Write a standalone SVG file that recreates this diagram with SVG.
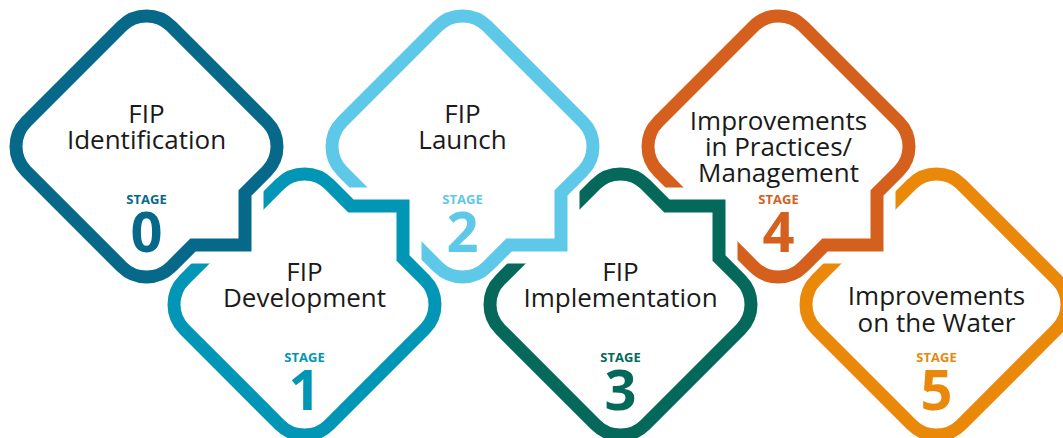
<svg xmlns="http://www.w3.org/2000/svg" xmlns:xlink="http://www.w3.org/1999/xlink" width="1063" height="438" viewBox="0 0 1063 438">
<style>
.outline{fill:none;stroke-width:13;stroke-linejoin:miter;stroke-miterlimit:10}
.halo{fill:none;stroke:#ffffff;stroke-width:37;stroke-linejoin:miter;stroke-linecap:butt}
.label{font-family:"Open Sans","Noto Sans","Liberation Sans",sans-serif;font-size:26px;fill:#1a1a1a;text-anchor:middle}
.stage{font-family:"Open Sans","Noto Sans","Liberation Sans",sans-serif;font-size:13px;font-weight:700;text-anchor:middle}
.num{font-family:"Open Sans","Noto Sans","Liberation Sans",sans-serif;font-size:56px;font-weight:700;text-anchor:middle}
.c0{stroke:#06698a;fill:#06698a}
.c1{stroke:#0296b6;fill:#0296b6}
.c2{stroke:#5ec8e8;fill:#5ec8e8}
.c3{stroke:#04695a;fill:#04695a}
.c4{stroke:#d5601d;fill:#d5601d}
.c5{stroke:#ea880a;fill:#ea880a}
</style>
<defs>
<path id="dTop" d="M -120.25 -24.75 L -24.75 -120.25 A 35 35 0 0 1 24.75 -120.25 L 120.25 -24.75 A 35 35 0 0 1 120.25 24.75 L 98.5 46.5 L 98.5 98.5 L 46.5 98.5 L 24.75 120.25 A 35 35 0 0 1 -24.75 120.25 L -120.25 24.75 A 35 35 0 0 1 -120.25 -24.75 Z"/>
<path id="dBot" d="M -120.25 -24.75 L -24.75 -120.25 A 35 35 0 0 1 24.75 -120.25 L 46.5 -98.5 L 98.5 -98.5 L 98.5 -46.5 L 120.25 -24.75 A 35 35 0 0 1 120.25 24.75 L 24.75 120.25 A 35 35 0 0 1 -24.75 120.25 L -120.25 24.75 A 35 35 0 0 1 -120.25 -24.75 Z"/>
<path id="dPlain" d="M -120.25 -24.75 L -24.75 -120.25 A 35 35 0 0 1 24.75 -120.25 L 120.25 -24.75 A 35 35 0 0 1 120.25 24.75 L 24.75 120.25 A 35 35 0 0 1 -24.75 120.25 L -120.25 24.75 A 35 35 0 0 1 -120.25 -24.75 Z"/>
<path id="hTop" d="M 98.5 26.5 L 98.5 98.5 L 26.5 98.5"/>
<path id="hBot" d="M 26.5 -98.5 L 98.5 -98.5 L 98.5 -26.5"/>
</defs>
<g id="connectors"></g>
<g id="stage5" transform="translate(936.5,304.5)">
<use xlink:href="#dPlain" class="outline c5" style="fill:none"/>
<text class="label" x="0" y="0.5">Improvements</text>
<text class="label" x="0" y="27">on the Water</text>
<text class="stage c5" x="0" y="57.5" style="stroke:none">STAGE</text>
<text class="num c5" x="0" y="105.5" style="stroke:none">5</text>
</g>
<g id="stage4" transform="translate(778.5,146.5)">
<use xlink:href="#hTop" class="halo"/>
<use xlink:href="#dTop" class="outline c4" style="fill:none"/>
<text class="label" x="0" y="-17">Improvements</text>
<text class="label" x="0" y="9.3">in Practices/</text>
<text class="label" x="0" y="35.5">Management</text>
<text class="stage c4" x="0" y="57.5" style="stroke:none">STAGE</text>
<text class="num c4" x="0" y="105.5" style="stroke:none">4</text>
</g>
<g id="stage3" transform="translate(620.5,304.5)">
<use xlink:href="#hBot" class="halo"/>
<use xlink:href="#dBot" class="outline c3" style="fill:none"/>
<text class="label" x="0" y="-24">FIP</text>
<text class="label" x="0" y="2.5">Implementation</text>
<text class="stage c3" x="0" y="57.5" style="stroke:none">STAGE</text>
<text class="num c3" x="0" y="105.5" style="stroke:none">3</text>
</g>
<g id="stage2" transform="translate(462.5,146.5)">
<use xlink:href="#hTop" class="halo"/>
<use xlink:href="#dTop" class="outline c2" style="fill:none"/>
<text class="label" x="0" y="-24">FIP</text>
<text class="label" x="0" y="2.5">Launch</text>
<text class="stage c2" x="0" y="57.5" style="stroke:none">STAGE</text>
<text class="num c2" x="0" y="105.5" style="stroke:none">2</text>
</g>
<g id="stage1" transform="translate(304.5,304.5)">
<use xlink:href="#hBot" class="halo"/>
<use xlink:href="#dBot" class="outline c1" style="fill:none"/>
<text class="label" x="0" y="-24">FIP</text>
<text class="label" x="0" y="2.5">Development</text>
<text class="stage c1" x="0" y="57.5" style="stroke:none">STAGE</text>
<text class="num c1" x="0" y="105.5" style="stroke:none">1</text>
</g>
<g id="stage0" transform="translate(146.5,146.5)">
<use xlink:href="#hTop" class="halo"/>
<use xlink:href="#dTop" class="outline c0" style="fill:none"/>
<text class="label" x="0" y="-24">FIP</text>
<text class="label" x="0" y="2.5">Identification</text>
<text class="stage c0" x="0" y="57.5" style="stroke:none">STAGE</text>
<text class="num c0" x="0" y="105.5" style="stroke:none">0</text>
</g>
</svg>
